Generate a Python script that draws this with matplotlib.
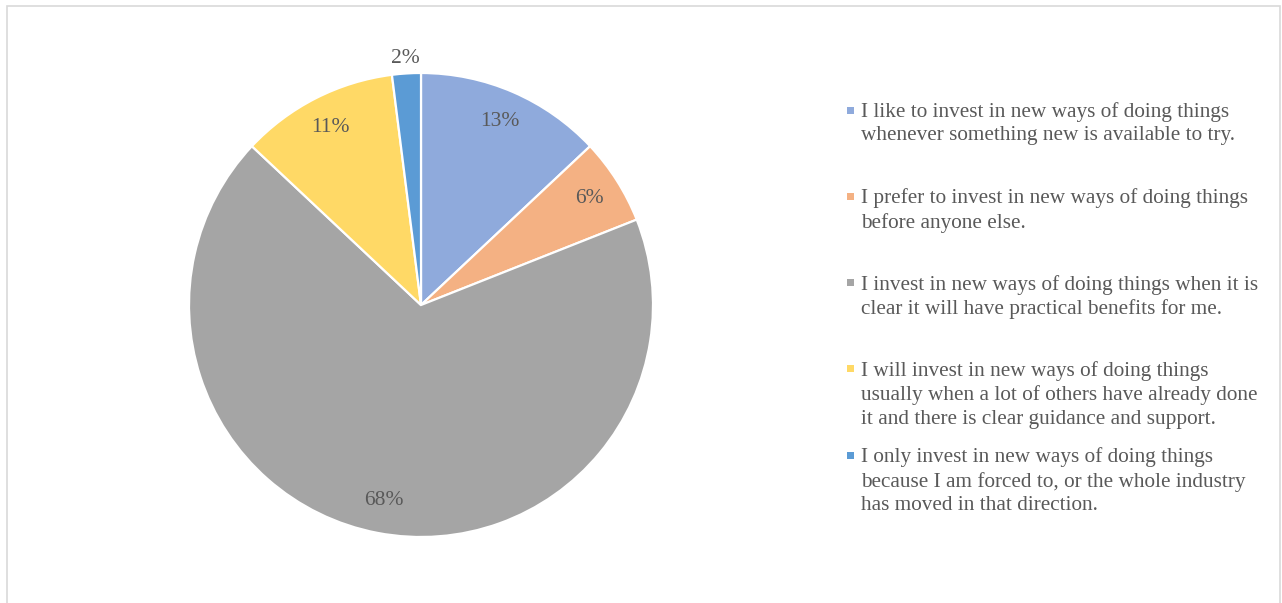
import numpy as np
import matplotlib
matplotlib.use("Agg")
import matplotlib.pyplot as plt
from matplotlib.patches import Rectangle

plt.rcParams["font.family"] = ["Liberation Serif", "DejaVu Serif"]

# Survey answers and their share of respondents (%)
answers = [
    "I like to invest in new ways of doing things\nwhenever something new is available to try.",
    "I prefer to invest in new ways of doing things\nbefore anyone else.",
    "I invest in new ways of doing things when it is\nclear it will have practical benefits for me.",
    "I will invest in new ways of doing things\nusually when a lot of others have already done\nit and there is clear guidance and support.",
    "I only invest in new ways of doing things\nbecause I am forced to, or the whole industry\nhas moved in that direction.",
]
shares = [13, 6, 68, 11, 2]
colors = ["#8FAADC", "#F4B183", "#A5A5A5", "#FFD966", "#5B9BD5"]
text_color = "#595959"

W, H = 1282, 603
fig = plt.figure(figsize=(W / 100, H / 100), dpi=100)

# light frame around the chart area
fig.patches.append(Rectangle((7 / W, -0.05), (1280 - 7) / W, (H - 6) / H + 0.05,
                             transform=fig.transFigure, fill=False,
                             edgecolor="#D9D9D9", linewidth=1.2))

# pie
cx, cy, r = 421, 305, 232
ax = fig.add_axes([(cx - r) / W, (H - cy - r) / H, 2 * r / W, 2 * r / H])
wedges, _ = ax.pie(shares, colors=colors, startangle=90, counterclock=False,
                   radius=1, wedgeprops=dict(edgecolor="white", linewidth=1.6))
ax.set_xlim(-1, 1)
ax.set_ylim(-1, 1)
ax.set_aspect("equal")
ax.axis("off")

# percentage labels; the small slice gets its label outside
for w, v in zip(wedges, shares):
    ang = np.deg2rad((w.theta1 + w.theta2) / 2)
    d = 1.065 if v < 5 else 0.86
    ax.text(d * np.cos(ang), d * np.sin(ang), f"{v}%", ha="center", va="center",
            fontsize=15.5, color=text_color, clip_on=False)

# legend on the right
for i, (lab, c) in enumerate(zip(answers, colors)):
    y_top = 110 + i * 86.3
    fig.patches.append(Rectangle((847 / W, 1 - (y_top + 3.5) / H), 7 / W, 7 / H,
                                 transform=fig.transFigure, facecolor=c,
                                 edgecolor="none"))
    fig.text(861 / W, 1 - (y_top - 8) / H, lab, ha="left", va="top",
             fontsize=15.3, color=text_color, linespacing=1.32)

fig.savefig("out.png", dpi=100, facecolor="white")
